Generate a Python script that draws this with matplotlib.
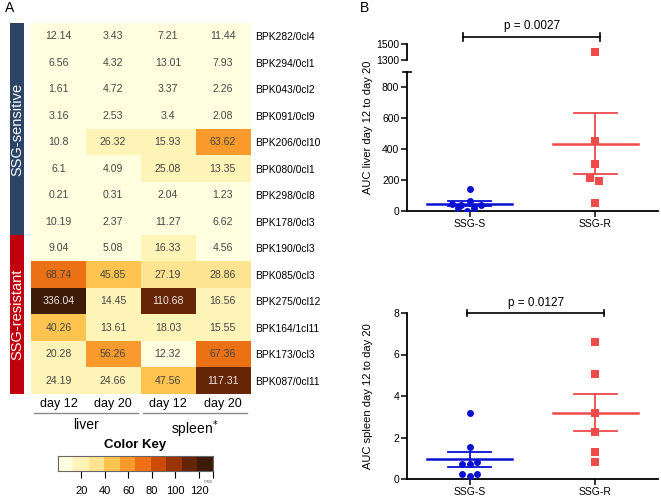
import numpy as np
import matplotlib
matplotlib.use("Agg")
import matplotlib.pyplot as plt
from matplotlib.colors import ListedColormap, BoundaryNorm

plt.rcParams['font.family'] = ['Liberation Sans', 'DejaVu Sans']

# ---- data: panel A ----
strains = ['BPK282/0cl4', 'BPK294/0cl1', 'BPK043/0cl2', 'BPK091/0cl9', 'BPK206/0cl10',
           'BPK080/0cl1', 'BPK298/0cl8', 'BPK178/0cl3', 'BPK190/0cl3', 'BPK085/0cl3',
           'BPK275/0cl12', 'BPK164/1cl11', 'BPK173/0cl3', 'BPK087/0cl11']
liver_d12 = [12.14, 6.56, 1.61, 3.16, 10.8, 6.1, 0.21, 10.19, 9.04, 68.74, 336.04, 40.26, 20.28, 24.19]
liver_d20 = [3.43, 4.32, 4.72, 2.53, 26.32, 4.09, 0.31, 2.37, 5.08, 45.85, 14.45, 13.61, 56.26, 24.66]
spleen_d12 = [7.21, 13.01, 3.37, 3.4, 15.93, 25.08, 2.04, 11.27, 16.33, 27.19, 110.68, 18.03, 12.32, 47.56]
spleen_d20 = [11.44, 7.93, 2.26, 2.08, 63.62, 13.35, 1.23, 6.62, 4.56, 28.86, 16.56, 15.55, 67.36, 117.31]
col_labels = ['day 12', 'day 20', 'day 12', 'day 20']
group = [0]*8 + [1]*6
group_names = ['SSG-sensitive', 'SSG-resistant']
key_ticks = [20, 40, 60, 80, 100, 120]
key_max = 132

# ---- data: panel B ----
liver_s = [145, 65, 45, 42, 40, 22, 18, 3]
liver_r = [1395, 455, 303, 215, 195, 54]
spleen_s = [3.18, 1.52, 0.82, 0.74, 0.74, 0.24, 0.24, 0.13]
spleen_r = [6.58, 5.07, 3.18, 2.25, 1.32, 0.82]
p_liver = 'p = 0.0027'
p_spleen = 'p = 0.0127'

# jitter (x offsets) for the dot plots
jit_ls = [0, 0, -0.14, -0.07, 0.09, -0.09, 0.03, -0.02]
jit_lr = [0, 0, 0, -0.04, 0.03, 0]
jit_ss = [0, 0, 0.06, -0.06, 0, -0.06, 0.06, 0]
jit_sr = [0, 0, 0, 0, 0, 0]

W, H = 661, 496
fig = plt.figure(figsize=(W/100, H/100), dpi=100)

def box(x0, y0, x1, y1):
    return [x0/W, 1 - y1/H, (x1-x0)/W, (y1-y0)/H]

# ---------- heatmap ----------
key_colors = ['#ffffe0', '#fff4b8', '#fee391', '#fec44f', '#fb9a2c',
              '#ec7014', '#cc4c02', '#993404', '#662506', '#3e1a08']
cmap = ListedColormap(key_colors)
bounds = np.linspace(0, key_max, 11)
norm = BoundaryNorm(bounds, 10, clip=True)

data = np.column_stack([liver_d12, liver_d20, spleen_d12, spleen_d20])
ax = fig.add_axes(box(31, 23, 250, 394))
ax.imshow(data, cmap=cmap, norm=norm, aspect='auto', interpolation='nearest')
for i in range(data.shape[0]):
    for j in range(data.shape[1]):
        v = data[i, j]
        bin_ = min(int(v / (key_max/10)), 9)
        ax.text(j, i, f'{v:g}', ha='center', va='center', fontsize=7.6,
                color='#f0e6e0' if bin_ >= 7 else '#454545')
ax.set_xticks(range(4))
ax.set_xticklabels(col_labels, fontsize=9)
ax.tick_params(axis='x', length=0, pad=3)
ax.yaxis.tick_right()
ax.set_yticks(range(len(strains)))
ax.set_yticklabels(strains, fontsize=7.4)
ax.tick_params(axis='y', length=0, pad=4)
for s in ax.spines.values():
    s.set_visible(False)

tr = ax.get_xaxis_transform()
for x0, x1, name in [(-0.45, 1.45, 'liver'), (1.55, 3.45, 'spleen$^{*}$')]:
    ax.plot([x0, x1], [-0.05, -0.05], color='#8a8a8a', lw=1.0, transform=tr, clip_on=False)
    ax.text((x0+x1)/2, -0.065, name, transform=tr, ha='center', va='top', fontsize=10)

# side bar
sb = fig.add_axes(box(10, 23, 24, 394))
sb.imshow(np.array(group)[:, None], cmap=ListedColormap(['#2c4566', '#c0000f']),
          aspect='auto', interpolation='nearest')
sb.text(0, 3.5, group_names[0], rotation=90, ha='center', va='center', color='white', fontsize=10.5)
sb.text(0, 10.5, group_names[1], rotation=90, ha='center', va='center', color='white', fontsize=10.5)
sb.axis('off')

# color key
ck = fig.add_axes(box(58, 456, 213, 471))
ck.imshow(np.arange(10)[None, :], cmap=cmap, aspect='auto', interpolation='nearest',
          extent=[0, key_max, 0, 1])
ck.set_yticks([])
ck.set_xticks(key_ticks + [key_max])
ck.set_xticklabels([str(t) for t in key_ticks] + [''], fontsize=8)
ck.tick_params(axis='x', length=5, width=0.8, pad=6)
ck.text(key_max, -0.55, 'max', fontsize=3.5, color='#777777', ha='right', va='top',
        transform=ck.get_xaxis_transform())
for s in ck.spines.values():
    s.set_color('#666666')
    s.set_linewidth(0.8)
ck.set_title('Color Key', fontsize=9.5, fontweight='bold', pad=6)

fig.text(5/W, 1 - 12/H, 'A', fontsize=10)
fig.text(360/W, 1 - 12/H, 'B', fontsize=10)

# ---------- dot plots ----------
blue = '#0a10d0'
red = '#ef4b4b'

def dots(ax, vals, jit, x, color, marker, ms):
    vals = np.array(vals, dtype=float)
    ax.scatter(x + np.array(jit), vals, color=color, marker=marker, s=ms**2, zorder=3,
               linewidths=0)
    m = vals.mean()
    sem = vals.std(ddof=1) / np.sqrt(len(vals))
    ax.plot([x - 0.34, x + 0.34], [m, m], color=color, lw=1.8, zorder=2)
    ax.plot([x, x], [m - sem, m + sem], color=color, lw=1.3, zorder=2)
    for y in (m - sem, m + sem):
        ax.plot([x - 0.17, x + 0.17], [y, y], color=color, lw=1.3, zorder=2)

def style(ax):
    ax.set_xlim(0.5, 2.5)
    ax.spines['top'].set_visible(False)
    ax.spines['right'].set_visible(False)
    for s in ('left', 'bottom'):
        ax.spines[s].set_linewidth(1.3)
    ax.tick_params(width=1.1, length=4, labelsize=7.5, pad=1.5)
    ax.set_xticks([1, 2])
    ax.set_xticklabels(['SSG-S', 'SSG-R'], fontsize=7.5)

def bracket(ax, x0, x1, text):
    y = 1.0
    tr = ax.get_xaxis_transform()
    ax.plot([x0, x1], [y, y], color='black', lw=1.2, transform=tr, clip_on=False)
    for xx in (x0, x1):
        ax.plot([xx, xx], [y - 0.02, y + 0.02], color='black', lw=1.2, transform=tr, clip_on=False)
    ax.text((x0+x1)/2, y + 0.025, text, transform=tr, ha='center', va='bottom', fontsize=8.5)

# liver (broken axis)
lo = fig.add_axes(box(407, 72, 658, 211))
hi = fig.add_axes(box(407, 44, 658, 60))
for a in (lo, hi):
    dots(a, liver_s, jit_ls, 1, blue, 'o', 5)
    dots(a, liver_r, jit_lr, 2, red, 's', 5.5)
style(lo)
lo.set_ylim(0, 900)
lo.set_yticks([0, 200, 400, 600, 800])
lo.plot([-0.015, 0.015], [1, 1], color='black', lw=1.2, transform=lo.transAxes, clip_on=False)
hi.set_xlim(0.5, 2.5)
hi.set_ylim(1300, 1500)
hi.set_yticks([1300, 1500])
hi.set_xticks([])
for s in ('top', 'right', 'bottom'):
    hi.spines[s].set_visible(False)
hi.spines['left'].set_linewidth(1.3)
hi.tick_params(width=1.1, length=4, labelsize=7.5, pad=1.5)
hi.patch.set_alpha(0)
lo.set_ylabel('AUC liver day 12 to day 20', fontsize=8)
lo.yaxis.set_label_coords(-0.135, 0.6)

# bracket for liver plot on the upper axes
tr = hi.get_xaxis_transform()
hi.plot([0.95, 2.04], [1.45, 1.45], color='black', lw=1.2, transform=tr, clip_on=False)
for xx in (0.95, 2.04):
    hi.plot([xx, xx], [1.2, 1.7], color='black', lw=1.2, transform=tr, clip_on=False)
hi.text(1.5, 1.75, p_liver, transform=tr, ha='center', va='bottom', fontsize=8.5)

# spleen
sp = fig.add_axes(box(407, 313, 658, 479))
dots(sp, spleen_s, jit_ss, 1, blue, 'o', 5)
dots(sp, spleen_r, jit_sr, 2, red, 's', 5.5)
for c in sp.collections:
    c.set_clip_on(False)
style(sp)
sp.set_ylim(0, 8)
sp.set_yticks([0, 2, 4, 6, 8])
sp.set_ylabel('AUC spleen day 12 to day 20', fontsize=8)
sp.yaxis.set_label_coords(-0.135, 0.5)
bracket(sp, 0.98, 2.07, p_spleen)

fig.savefig('out.png', dpi=100)
